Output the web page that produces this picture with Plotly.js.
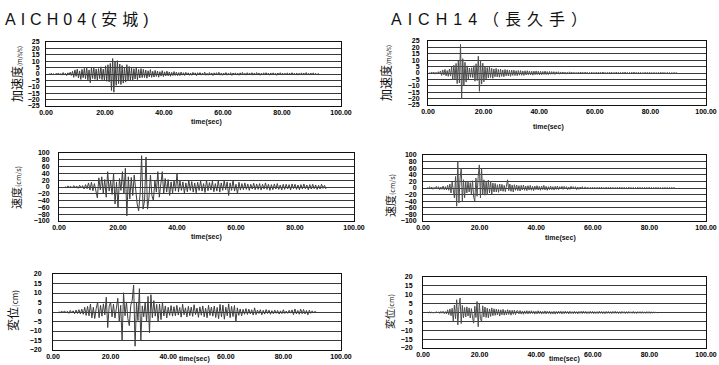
<!DOCTYPE html>
<html><head><meta charset="utf-8">
<script src="https://cdn.plot.ly/plotly-3.0.1.min.js"></script>
<style>html,body{margin:0;padding:0;background:#fff;}</style>
</head><body><div id="chart" style="width:719px;height:365px;"></div>
<script>
// ---- station titles / labels ----
const stationTitles = ['AICH04(安城)', 'AICH14（長久手）'];
const yTitles = [['加速度', '(m/s/s)'], ['加速度', '(m/s/s)'], ['速度', '(cm/s)'], ['速度', '(cm/s)'], ['変位', '(cm)'], ['変位', '(cm)']];
const xTitle = 'time(sec)';
const yRanges = [[-25, 25], [-25, 25], [-100, 100], [-100, 100], [-20, 20], [-20, 20]];
const yDticks = [5, 5, 20, 20, 5, 5];

// ---- AICH04 acceleration, sampled every 0.4 s from t = 1 s ----
const acc04 = [
 0.3,-0.4,0.6,-0.5,0.2,-0.7,0.5,-0.3,0.8,-0.6,
 0.4,-0.9,1.1,-0.7,0.6,-1.2,0.9,-0.5,1.4,-1.1,
 2.1,-2.6,3.2,-1.8,3.8,-3.1,2.4,-4.2,3.6,-2.9,
 4.4,-3.7,5.1,-4.6,3.2,-6.8,4.9,-3.5,5.3,-4.1,
 3.9,-4.8,4.2,-3.6,5.6,-4.4,3.8,-5.2,6.4,-5.7,
 7.2,-6.1,8.3,-12.9,12.1,-14.2,9.6,-8.8,10.4,-7.5,
 7.8,-8.2,6.6,-7.1,5.4,-6.3,7.3,-4.8,5.9,-5.2,
 4.6,-5.5,4.1,-3.9,5.0,-4.4,3.5,-3.1,4.2,-2.8,
 3.6,-2.7,3.1,-3.3,2.5,-2.2,3.4,-2.6,2.1,-2.4,
 2.8,-1.9,2.3,-2.5,1.8,-1.6,2.6,-2.0,1.7,-1.5,
 2.2,-1.4,1.6,-1.8,1.3,-1.2,1.9,-1.1,1.4,-1.3,
 1.1,-1.2,1.5,-0.9,1.0,-1.1,1.3,-0.8,0.9,-1.0,
 0.8,-1.0,1.2,-0.7,0.9,-1.3,1.0,-0.6,1.1,-0.9,
 0.7,-0.8,1.4,-1.0,0.6,-0.9,1.1,-0.7,0.8,-1.2,
 0.9,-0.6,1.0,-0.8,1.3,-0.9,0.7,-1.0,0.8,-0.6,
 1.1,-0.9,0.6,-0.7,1.0,-1.1,0.8,-0.6,0.9,-0.8,
 0.7,-1.0,0.9,-0.6,1.2,-0.8,0.6,-0.9,1.0,-0.7,
 0.8,-0.6,1.0,-0.9,0.7,-0.8,1.1,-0.6,0.8,-1.0,
 0.6,-0.7,0.9,-0.8,1.0,-0.6,0.7,-0.9,0.8,-0.7,
 0.9,-0.6,0.7,-1.0,0.8,-0.7,1.0,-0.6,0.7,-0.8,
 0.6,-0.8,0.9,-0.7,0.7,-0.6,1.0,-0.8,0.6,-0.7,
 0.8,-0.9,0.6,-0.7,0.9,-0.6,0.7,-0.8,1.1,-0.7,
 0.6,-0.8,0.7,-0.6,0.9,-0.7,0.5,-0.6,0.4,-0.3
];

// ---- AICH14 acceleration, every 0.4 s from t = 0.5 s ----
const acc14 = [
 0.4,-0.6,0.8,-0.5,0.7,-0.9,0.6,-0.8,1.0,-0.7,
 1.6,-1.9,2.4,-1.5,2.8,-2.2,1.9,-2.6,3.1,-2.4,
 4.8,-5.2,6.1,-4.6,7.5,-8.3,9.4,-7.8,22.4,-20.1,
 11.2,-9.6,8.4,-7.1,5.6,-4.8,3.9,-3.4,4.1,-3.6,
 5.8,-6.4,7.2,-5.9,13.1,-14.3,9.8,-8.7,7.6,-6.9,
 5.1,-4.6,4.3,-3.9,4.8,-3.5,3.7,-4.1,3.2,-2.9,
 3.6,-3.1,2.8,-3.3,3.0,-2.6,2.4,-2.9,2.7,-2.2,
 2.5,-2.3,2.1,-2.6,2.3,-1.9,2.2,-2.0,1.8,-2.1,
 2.0,-1.7,1.9,-1.8,1.6,-1.9,1.7,-1.5,1.8,-1.4,
 1.6,-1.5,1.4,-1.7,1.5,-1.3,1.6,-1.2,1.4,-1.5,
 1.3,-1.4,1.2,-1.1,1.5,-1.2,1.1,-1.3,1.2,-1.0,
 1.1,-0.9,1.0,-1.1,0.9,-0.8,1.0,-0.9,0.8,-0.7,
 0.8,-0.6,0.7,-0.9,0.6,-0.7,0.9,-0.5,0.7,-0.8,
 0.6,-0.7,0.5,-0.8,0.7,-0.6,0.8,-0.5,0.6,-0.7,
 0.7,-0.5,0.6,-0.8,0.5,-0.6,0.7,-0.7,0.5,-0.6,
 0.6,-0.8,0.7,-0.5,0.6,-0.6,0.8,-0.5,0.5,-0.7,
 0.5,-0.6,0.7,-0.5,0.6,-0.7,0.5,-0.6,0.7,-0.5,
 0.6,-0.5,0.5,-0.7,0.6,-0.5,0.7,-0.6,0.5,-0.6,
 0.5,-0.6,0.6,-0.5,0.7,-0.5,0.5,-0.6,0.6,-0.4,
 0.5,-0.6,0.4,-0.5,0.6,-0.5,0.5,-0.4,0.6,-0.5,
 0.4,-0.5,0.5,-0.6,0.4,-0.5,0.5,-0.4,0.6,-0.4,
 0.5,-0.4,0.4,-0.5,0.5,-0.4,0.4,-0.5,0.3,-0.4,
 0.3,-0.3,0.2,-0.2
];

// ---- AICH04 velocity, every 0.5 s from t = 2 s ----
const vel04 = [
 1,-2,3,-1,2,-3,4,-2,3,-4,
 5,-3,4,-6,7,-5,12,-9,14,-11,
 10,-15,-32,27,-8,30,-18,22,-30,45,
 -12,18,-22,40,-50,15,-60,25,-10,45,
 -20,55,-85,30,-35,28,-25,35,-15,-50,
 -70,-20,92,-65,-40,88,-65,-30,35,-25,
 -40,20,-15,45,-30,18,45,-20,25,-15,
 22,-25,15,-18,20,-12,40,-15,18,-10,
 15,-18,12,-14,20,-10,16,-15,12,-17,
 14,-10,18,-12,10,-16,20,-11,13,-9,
 17,-14,10,-12,20,-15,12,-10,18,-8,
 15,-25,12,-10,20,-12,8,-20,14,-9,
 10,-8,12,-7,9,-10,8,-6,11,-8,
 9,-7,10,-9,8,-6,12,-7,8,-10,
 7,-8,9,-6,10,-7,6,-9,8,-7,
 8,-6,7,-9,9,-5,8,-7,6,-8,
 7,-6,9,-5,6,-8,7,-6,8,-5,
 6,-7,5,-6,8,-4,5,-6
];

// ---- AICH14 velocity, every 0.4 s from t = 1.5 s ----
const vel14 = [
 2,-3,4,-2,3,-4,2,-3,5,-3,
 4,-5,3,-4,6,-5,4,-6,8,-7,
 12,-15,18,-14,-30,35,-55,80,-45,30,
 60,-40,25,-30,18,-15,20,-12,16,-18,
 22,-28,-40,30,-25,35,70,-30,60,-20,
 25,-22,18,-20,24,-15,20,-18,15,-12,
 14,-12,10,-13,12,-9,11,-10,8,-11,
 15,25,-8,12,-10,9,-12,10,-7,9,
 -8,7,-9,8,-6,9,-7,6,-8,7,
 -6,8,-7,5,-8,6,-5,7,-6,5,
 -7,6,-5,8,-6,5,-7,4,-5,6,
 -5,4,-6,5,-4,6,-5,4,-3,5,
 -4,5,-3,4,-5,3,-4,5,-3,4,
 -3,4,-5,3,-4,3,-2,4,-3,2,
 2.6,-2.1,2.3,-2.8,1.9,-2.4,2.7,-2.0,2.2,-2.6,
 2.1,-2.7,2.4,-1.9,2.8,-2.2,1.8,-2.3,2.6,-2.0,
 2.2,-1.8,2.7,-2.5,2.0,-2.1,1.9,-2.6,2.3,-1.8,
 2.5,-2.0,2.1,-1.9,2.2,-2.4,1.8,-2.1,2.6,-1.7,
 1.9,-2.2,2.0,-2.5,1.7,-1.9,2.4,-1.8,2.0,-2.1,
 1.8,-2.3,2.1,-1.7,1.9,-2.0,2.3,-1.6,1.8,-1.9,
 1.7,-1.8,2.2,-1.6,1.9,-1.7,1.6,-2.0,1.8,-1.5,
 1.6,-1.7,1.5,-1.8,2.0,-1.4,1.6,-1.2,1.0,-0.8
];

// ---- AICH04 displacement, every 0.5 s from t = 2 s ----
const dis04 = [
 0.3,-0.4,0.5,-0.3,0.6,-0.5,0.4,-0.7,0.8,-0.5,
 0.6,-0.9,1.0,-0.8,1.2,-1.0,1.5,-1.2,2.5,-1.8,
 3.0,-2.0,4.2,-3.1,2.5,-3.4,1.8,5.2,-3.0,3.5,
 -2.2,4.3,-1.5,7.8,-8.2,3.0,5.2,-2.5,4.1,-3.2,
 2.0,7.2,-5.0,3.5,-15.2,10.1,-2.0,5.3,-3.5,-7.2,
 3.5,6.1,14.2,-18.0,5.0,-4.5,12.3,-15.1,3.2,-2.5,
 5.1,-5.2,8.2,-11.0,9.1,-3.0,6.0,-2.2,4.0,-5.1,
 4.2,-4.0,5.1,-2.1,3.2,-3.1,2.5,-1.8,3.4,-2.2,
 2.8,-2.0,3.5,-1.6,2.4,-2.7,4.1,-1.5,2.2,-2.6,
 3.0,-1.9,2.6,-2.3,3.8,-1.4,2.1,-2.8,2.7,-1.7,
 3.2,-2.5,2.0,-3.0,3.5,-1.8,2.6,-2.2,3.1,-2.9,
 2.4,-3.5,4.0,-2.6,3.6,-3.8,2.5,-2.0,4.3,-3.0,
 3.0,-2.4,3.4,-5.2,2.2,-1.8,1.6,-2.0,1.4,-1.2,
 1.8,-1.3,1.5,-1.0,1.2,-1.6,2.2,-1.4,1.0,-0.8,
 1.2,-1.5,0.9,-1.1,1.3,-0.8,1.0,-1.2,0.7,-0.9,
 1.0,-0.7,0.8,-1.1,0.6,-0.9,1.2,-0.8,0.5,-0.7,
 0.9,-0.6,1.1,-1.4,1.6,-1.0,0.8,-1.2,1.5,-0.9,
 1.3,-1.0,0.8,-1.5,1.0,-0.7,0.6,-0.4,0.3,-0.2
];

// ---- AICH14 displacement, every 0.4 s from t = 1.5 s ----
const dis14 = [
 0.2,-0.3,0.4,-0.2,0.3,-0.4,0.2,-0.3,0.5,-0.3,
 0.4,-0.5,0.6,-0.4,0.7,-0.6,0.5,-0.8,1.5,-1.2,
 2.0,-1.8,2.4,-5.0,4.2,-3.5,7.2,-7.0,3.5,8.1,
 -6.2,4.0,-3.0,2.8,-2.5,3.2,-2.0,2.6,-3.1,2.2,
 -2.5,-6.0,3.5,-2.8,6.2,-8.0,5.1,-3.5,-5.0,3.8,
 -2.5,3.1,-2.8,2.4,-3.0,2.0,-2.2,2.6,-1.8,2.1,
 -1.6,1.9,-1.4,1.7,-2.0,1.5,-1.3,1.8,-1.5,1.2,
 -1.4,1.6,-1.1,1.3,-1.5,1.2,-1.0,1.4,-1.2,0.9,
 1.0,-0.8,1.1,-0.9,0.8,-1.0,0.9,-0.7,1.0,-0.8,
 0.9,-0.7,1.0,-0.6,0.8,-0.9,0.7,-0.8,1.0,-0.6,
 0.8,-0.9,0.6,-0.7,0.9,-0.8,0.7,-0.6,0.8,-0.9,
 0.5,-0.8,0.7,-0.9,0.6,-0.7,0.8,-0.6,0.7,-0.8,
 0.6,-0.7,0.8,-0.5,0.6,-0.8,0.7,-0.6,0.5,-0.7,
 0.7,-0.6,0.5,-0.8,0.6,-0.5,0.7,-0.6,0.8,-0.5,
 0.6,-0.7,0.5,-0.6,0.7,-0.5,0.6,-0.7,0.5,-0.6,
 0.5,-0.6,0.7,-0.5,0.6,-0.6,0.5,-0.7,0.6,-0.5,
 0.6,-0.5,0.5,-0.6,0.6,-0.5,0.7,-0.5,0.5,-0.6,
 0.5,-0.6,0.6,-0.4,0.5,-0.6,0.5,-0.5,0.6,-0.4,
 0.4,-0.5,0.6,-0.5,0.4,-0.6,0.5,-0.4,0.5,-0.5,
 0.5,-0.4,0.4,-0.5,0.5,-0.4,0.5,-0.5,0.4,-0.4,
 0.4,-0.3,0.3,-0.4
];

const series = [
  {y: acc04, x0: 1.0, dx: 0.4, color: '#3e3e3e'},
  {y: acc14, x0: 0.5, dx: 0.4, color: '#4e4e4e'},
  {y: vel04, x0: 2.0, dx: 0.5, color: '#3e3e3e'},
  {y: vel14, x0: 1.5, dx: 0.4, color: '#4e4e4e'},
  {y: dis04, x0: 2.0, dx: 0.5, color: '#3e3e3e'},
  {y: dis14, x0: 1.5, dx: 0.4, color: '#4e4e4e'}
];

// panel boxes in pixels: [left, right, top, bottom]
const W = 719, H = 365;
const boxes = [
  [46, 341, 42, 106],
  [428, 706, 41, 105],
  [59, 354, 153, 221],
  [423, 706, 155, 221],
  [53, 341, 274, 350],
  [423, 706, 277, 348]
];
const yLabelStandoff = [4, 6, 7, 4, 9, 8];
const yTitlePos = [[16, 74, 12, 6], [386, 73, 12, 6], [16, 188, 11, 7], [390, 195, 11, 7], [12, 311, 12, 8], [389, 311, 10, 7]];
const xTitlePos = [[207, 122], [548, 127], [207, 237], [560, 238], [195, 365], [564, 365]];

const tickFont = {family: 'Liberation Sans, Arial, sans-serif', size: 7, color: '#000', weight: 'bold'};
const data = [];
const layout = {
  width: W, height: H, margin: {l: 0, r: 0, t: 0, b: 0},
  paper_bgcolor: '#fff', plot_bgcolor: '#fff', showlegend: false,
  annotations: []
};
series.forEach((s, i) => {
  const n = i + 1;
  const sx = n === 1 ? '' : n;
  data.push({
    type: 'scatter', mode: 'lines', y: s.y, x0: s.x0, dx: s.dx,
    xaxis: 'x' + sx, yaxis: 'y' + sx,
    line: {color: s.color, width: 1}, hoverinfo: 'skip'
  });
  const b = boxes[i];
  layout['xaxis' + sx] = {
    domain: [b[0] / W, b[1] / W], anchor: 'y' + sx, range: [0, 100],
    dtick: 20, tick0: 0, tickformat: '.2f', showgrid: false, zeroline: false,
    showline: true, mirror: true, linecolor: '#111', linewidth: 1,
    ticks: '', tickfont: tickFont, ticklabeloverflow: 'allow', fixedrange: true
  };
  layout['yaxis' + sx] = {
    domain: [1 - b[3] / H, 1 - b[2] / H], anchor: 'x' + sx, range: yRanges[i],
    dtick: yDticks[i], tick0: 0, showgrid: true, gridcolor: '#3a3a3a', gridwidth: 1,
    zeroline: false, showline: true, mirror: true, linecolor: '#111', linewidth: 1,
    ticks: '', tickfont: tickFont, ticklabelstandoff: yLabelStandoff[i], fixedrange: true
  };
  const yt = yTitlePos[i];
  layout.annotations.push({
    xref: 'paper', yref: 'paper', x: yt[0] / W, y: 1 - yt[1] / H,
    xanchor: 'center', yanchor: 'middle', textangle: -90, showarrow: false,
    text: yTitles[i][0] + '<span style="font-size:' + yt[3] + 'px">' + yTitles[i][1] + '</span>',
    font: {family: 'Noto Sans CJK JP, sans-serif', size: yt[2], color: '#111'}
  });
  const xt = xTitlePos[i];
  layout.annotations.push({
    xref: 'paper', yref: 'paper', x: xt[0] / W, y: 1 - xt[1] / H,
    xanchor: 'center', yanchor: i >= 4 ? 'bottom' : 'middle', showarrow: false, text: xTitle,
    font: {family: 'Liberation Sans, Arial, sans-serif', size: 7, color: '#111', weight: 'bold'}
  });
});
const titlePos = [[3, 19], [389, 19]];
stationTitles.forEach((t, i) => {
  layout.annotations.push({
    xref: 'paper', yref: 'paper', x: titlePos[i][0] / W, y: 1 - titlePos[i][1] / H,
    xanchor: 'left', yanchor: 'middle', showarrow: false,
    text: '<span style="letter-spacing:' + (i === 0 ? 5 : 6) + 'px">' + t + '</span>',
    font: {family: 'Liberation Sans, Noto Sans CJK JP, sans-serif', size: 16, color: '#111'}
  });
});
Plotly.newPlot('chart', data, layout, {displayModeBar: false, staticPlot: true});
</script></body></html>
